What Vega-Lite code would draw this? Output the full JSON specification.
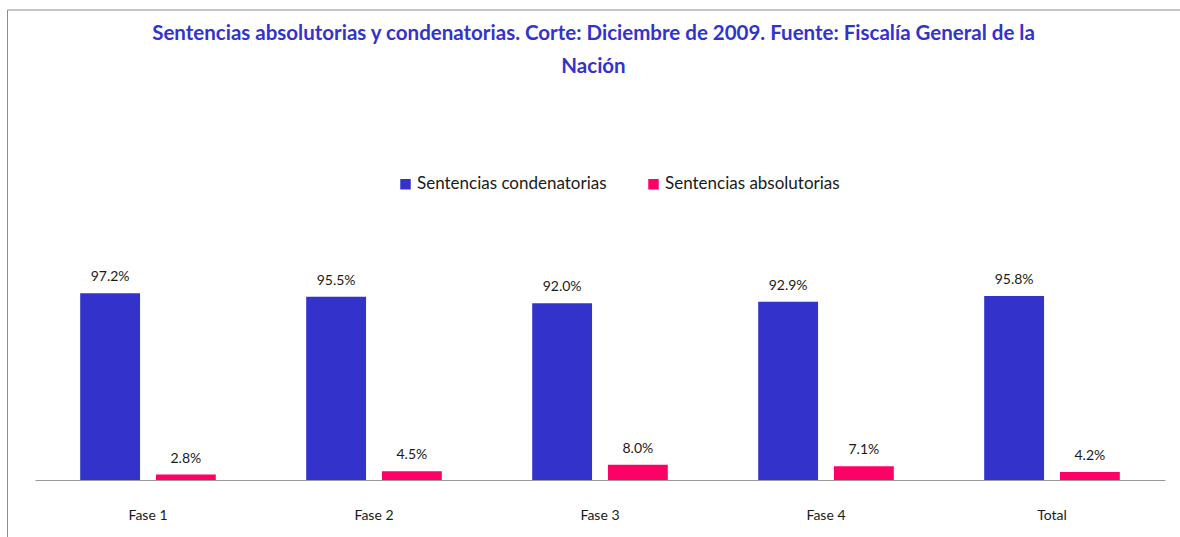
{
  "$schema": "https://vega.github.io/schema/vega-lite/v6.json",
  "autosize": {"type": "none"},
  "width": 1173,
  "height": 527.5,
  "padding": {"left": 7, "top": 9.5, "right": 0, "bottom": 0},
  "background": "white",
  "title": {
    "text": ["Sentencias absolutorias y condenatorias.  Corte: Diciembre de 2009. Fuente: Fiscalía General de la", "Nación"],
    "anchor": "middle",
    "frame": "group",
    "orient": "top",
    "baseline": "top",
    "offset": -68,
    "font": "Lato",
    "fontSize": 20.5,
    "fontWeight": "bold",
    "color": "#3333CC",
    "lineHeight": 33
  },
  "data": {
    "values": [
      {"fase": "Fase 1", "serie": "Sentencias condenatorias", "valor": 0.972},
      {"fase": "Fase 1", "serie": "Sentencias absolutorias", "valor": 0.028},
      {"fase": "Fase 2", "serie": "Sentencias condenatorias", "valor": 0.955},
      {"fase": "Fase 2", "serie": "Sentencias absolutorias", "valor": 0.045},
      {"fase": "Fase 3", "serie": "Sentencias condenatorias", "valor": 0.920},
      {"fase": "Fase 3", "serie": "Sentencias absolutorias", "valor": 0.080},
      {"fase": "Fase 4", "serie": "Sentencias condenatorias", "valor": 0.929},
      {"fase": "Fase 4", "serie": "Sentencias absolutorias", "valor": 0.071},
      {"fase": "Total", "serie": "Sentencias condenatorias", "valor": 0.958},
      {"fase": "Total", "serie": "Sentencias absolutorias", "valor": 0.042}
    ]
  },
  "encoding": {
    "x": {
      "field": "fase",
      "type": "nominal",
      "sort": null,
      "scale": {"range": [28, 1158], "paddingInner": 0.4, "paddingOuter": 0.2},
      "axis": {
        "title": null,
        "orient": "bottom",
        "offset": -57,
        "labelAngle": 0,
        "ticks": false,
        "domainColor": "#999999",
        "domainWidth": 1,
        "labelFont": "Lato",
        "labelFontSize": 14,
        "labelColor": "#1a1a1a",
        "labelPadding": 28,
        "labelBaseline": "top"
      }
    },
    "xOffset": {
      "field": "serie",
      "type": "nominal",
      "sort": ["Sentencias condenatorias", "Sentencias absolutorias"],
      "scale": {"paddingInner": 0.21, "paddingOuter": 0}
    },
    "y": {
      "field": "valor",
      "type": "quantitative",
      "scale": {"domain": [-0.2969, 2.4505], "nice": false, "zero": false},
      "axis": null
    }
  },
  "layer": [
    {
      "mark": {"type": "bar"},
      "encoding": {
        "color": {
          "field": "serie",
          "type": "nominal",
          "scale": {"domain": ["Sentencias condenatorias", "Sentencias absolutorias"], "range": ["#3333CC", "#FF0066"]},
          "legend": {
            "title": null,
            "orient": "none",
            "direction": "horizontal",
            "legendX": 390,
            "legendY": 166,
            "symbolType": "square",
            "symbolSize": 110,
            "symbolStrokeWidth": 0,
            "labelFont": "Lato",
            "labelFontSize": 17,
            "labelColor": "#1a1a1a",
            "labelOffset": 3,
            "labelLimit": 0,
            "columnPadding": 38,
            "padding": 0
          }
        }
      }
    },
    {
      "mark": {"type": "text", "baseline": "alphabetic", "dy": -12, "font": "Lato", "fontSize": 14, "color": "#1a1a1a"},
      "encoding": {
        "text": {"field": "valor", "type": "quantitative", "format": ".1%"}
      }
    }
  ],
  "config": {
    "view": {"stroke": "#8c8c8c", "strokeWidth": 1},
    "axis": {"grid": false}
  }
}
